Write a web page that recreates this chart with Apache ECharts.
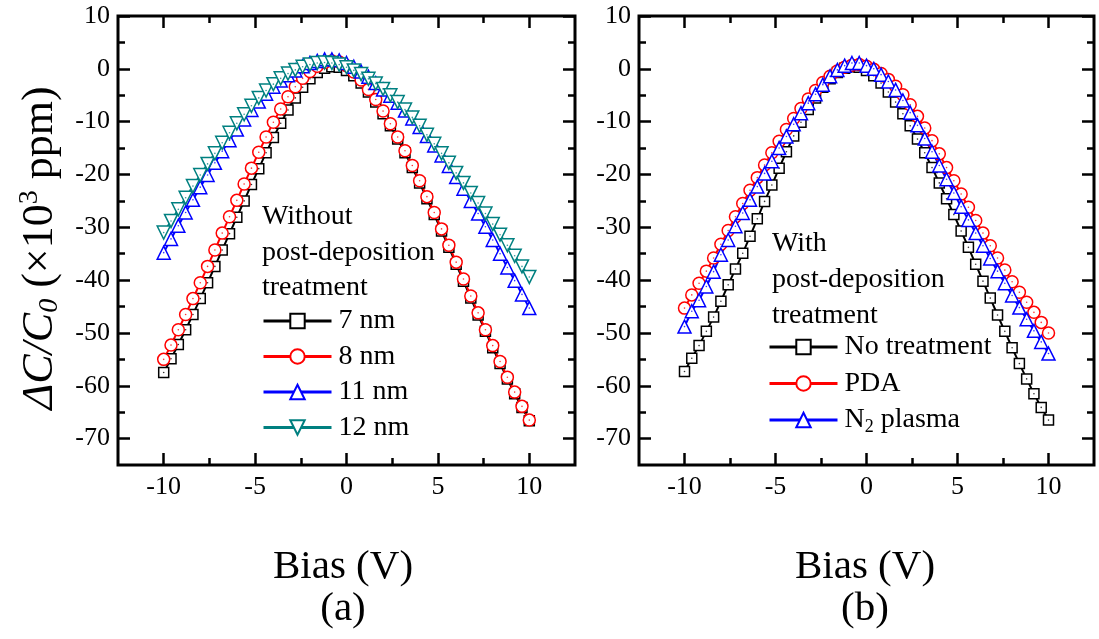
<!DOCTYPE html>
<html>
<head>
<meta charset="utf-8">
<script src="https://cdn.jsdelivr.net/npm/echarts@6/dist/echarts.min.js"></script>
<style>
html,body{margin:0;padding:0;background:#fff;}
#chart{width:1099px;height:639px;}
</style>
</head>
<body>
<div id="chart"></div>
<script>
// Bias (V) grid shared by all curves
const bias = [-10,-9.6,-9.2,-8.8,-8.4,-8,-7.6,-7.2,-6.8,-6.4,-6,-5.6,-5.2,-4.8,-4.4,-4,-3.6,-3.2,-2.8,-2.4,-2,-1.6,-1.2,-0.8,-0.4,0,0.4,0.8,1.2,1.6,2,2.4,2.8,3.2,3.6,4,4.4,4.8,5.2,5.6,6,6.4,6.8,7.2,7.6,8,8.4,8.8,9.2,9.6,10];

// (a) without post-deposition treatment, ΔC/C0 in 10^3 ppm
const nm7 = [-57.5,-54.9,-52.2,-49.4,-46.5,-43.5,-40.5,-37.4,-34.3,-31.2,-28.1,-25.0,-21.9,-18.9,-15.9,-13.0,-10.3,-7.8,-5.5,-3.5,-1.9,-0.7,0.1,0.4,0.3,-0.3,-1.3,-2.7,-4.4,-6.3,-8.5,-10.8,-13.3,-15.9,-18.7,-21.6,-24.6,-27.6,-30.7,-33.8,-37.0,-40.2,-43.4,-46.6,-49.7,-52.8,-55.8,-58.7,-61.5,-64.1,-66.6];
const nm8 = [-55.0,-52.3,-49.4,-46.5,-43.5,-40.5,-37.4,-34.3,-31.1,-28.0,-24.9,-21.8,-18.8,-15.8,-12.9,-10.1,-7.6,-5.3,-3.4,-1.8,-0.5,0.5,1.2,1.5,1.3,0.6,-0.6,-2.1,-3.9,-5.8,-8.0,-10.4,-12.9,-15.5,-18.3,-21.2,-24.2,-27.2,-30.3,-33.4,-36.6,-39.8,-43.0,-46.2,-49.4,-52.4,-55.4,-58.4,-61.2,-63.9,-66.5];
const nm11 = [-34.8,-32.2,-29.7,-27.2,-24.8,-22.4,-20.1,-17.8,-15.6,-13.5,-11.5,-9.6,-7.8,-6.2,-4.7,-3.4,-2.2,-1.2,-0.3,0.5,1.1,1.5,1.8,1.8,1.6,1.1,0.4,-0.5,-1.5,-2.7,-3.9,-5.1,-6.4,-7.9,-9.4,-11.0,-12.7,-14.5,-16.4,-18.4,-20.5,-22.7,-25.0,-27.4,-29.9,-32.4,-35.0,-37.6,-40.1,-42.7,-45.3];
const nm12 = [-31.0,-28.8,-26.6,-24.4,-22.2,-20.1,-18.0,-16.0,-14.0,-12.1,-10.3,-8.6,-7.0,-5.5,-4.1,-2.9,-1.8,-0.9,-0.2,0.4,0.8,1.1,1.2,1.1,0.8,0.3,-0.3,-1.0,-1.9,-2.8,-3.8,-5.0,-6.3,-7.7,-9.2,-10.8,-12.5,-14.2,-16.0,-17.8,-19.7,-21.6,-23.5,-25.4,-27.4,-29.4,-31.4,-33.4,-35.4,-37.4,-39.4];

// (b) with post-deposition treatment
const noTreat = [-57.3,-54.8,-52.4,-49.7,-47.0,-44.0,-40.9,-37.9,-34.9,-31.7,-28.4,-25.1,-22.0,-18.8,-15.7,-12.7,-10.1,-7.7,-5.5,-3.5,-1.9,-0.7,0.1,0.4,0.3,-0.3,-1.3,-2.7,-4.4,-6.3,-8.5,-10.8,-13.3,-15.9,-18.7,-21.6,-24.6,-27.6,-30.7,-33.8,-37.0,-40.2,-43.4,-46.6,-49.7,-52.8,-55.8,-58.7,-61.5,-64.1,-66.5];
const pda = [-45.3,-42.8,-40.6,-38.3,-35.8,-33.2,-30.6,-28.0,-25.5,-23.0,-20.6,-18.2,-15.9,-13.7,-11.5,-9.4,-7.5,-5.7,-4.1,-2.6,-1.4,-0.4,0.3,0.7,0.8,0.5,-0.1,-0.9,-2.0,-3.3,-4.9,-6.8,-9.0,-11.2,-13.6,-16.1,-18.7,-21.2,-23.7,-26.2,-28.7,-31.1,-33.5,-35.8,-38.1,-40.3,-42.3,-44.2,-46.1,-48.0,-50.0];
const n2 = [-48.8,-45.9,-43.8,-41.2,-38.4,-35.2,-32.4,-29.8,-27.3,-24.8,-22.3,-19.8,-17.5,-15.0,-12.8,-10.5,-8.4,-6.5,-4.8,-3.0,-1.4,-0.2,0.6,1.1,1.1,0.6,0.0,-1.1,-2.4,-4.0,-6.0,-8.3,-10.7,-13.2,-15.7,-18.3,-20.9,-23.5,-26.1,-28.6,-31.1,-33.5,-35.9,-38.3,-40.6,-42.9,-45.2,-47.4,-49.6,-51.7,-53.9];

const xMajor = [-10,-5,0,5,10];
const xMinor = [-7.5,-2.5,2.5,7.5];
const yMajor = [-70,-60,-50,-40,-30,-20,-10,0,10];
const yMinor = [-65,-55,-45,-35,-25,-15,-5,5];

const FONT = 'Liberation Serif';
const chart = echarts.init(document.getElementById('chart'), null, {renderer:'canvas'});

function pairs(arr){ return bias.map((v,i)=>[v, arr[i]]); }

const grids = [
  {left:118, top:16, width:457, height:449, show:true, borderColor:'#000', borderWidth:3, backgroundColor:'transparent'},
  {left:639, top:16, width:455, height:449, show:true, borderColor:'#000', borderWidth:3, backgroundColor:'transparent'}
];

const xAxes = [], yAxes = [];
[0,1].forEach(g=>{
  [['bottom',xMajor,12,true],['bottom',xMinor,7,false],['top',xMajor,12,false],['top',xMinor,7,false]].forEach(([pos,vals,len,lab])=>{
    xAxes.push({type:'value', gridIndex:g, position:pos, min:-12.5, max:12.5,
      axisLine:{show:false, onZero:false}, splitLine:{show:false},
      axisTick:{show:true, inside:true, length:len, customValues:vals, lineStyle:{color:'#000', width:2.5}},
      axisLabel:{show:lab, customValues:xMajor, margin:9, color:'#000', fontFamily:FONT, fontSize:26}});
  });
  [['left',yMajor,12,true],['left',yMinor,7,false],['right',yMajor,12,false],['right',yMinor,7,false]].forEach(([pos,vals,len,lab])=>{
    yAxes.push({type:'value', gridIndex:g, position:pos, min:-75, max:10,
      axisLine:{show:false, onZero:false}, splitLine:{show:false},
      axisTick:{show:true, inside:true, length:len, customValues:vals, lineStyle:{color:'#000', width:2.5}},
      axisLabel:{show:lab, customValues:yMajor, margin:8, color:'#000', fontFamily:FONT, fontSize:26}});
  });
});

function mkSeries(name, arr, color, symbol, size, g, rotate){
  const ax = g*4;
  return [{
    name, type:'line', xAxisIndex:ax, yAxisIndex:ax, data:pairs(arr),
    symbol, symbolSize:size, symbolRotate:rotate||0, showAllSymbol:true,
    lineStyle:{color, width:2}, itemStyle:{color:'#fff', borderColor:color, borderWidth:1.5},
    emphasis:{disabled:true}, animation:false, z:2
  },{
    name: name+' dot', type:'scatter', xAxisIndex:ax, yAxisIndex:ax, data:pairs(arr),
    symbol:'circle', symbolSize:1.6, itemStyle:{color}, silent:true, animation:false, z:2
  }];
}

const series = [].concat(
  mkSeries('7 nm', nm7, '#000000', 'rect', 10, 0),
  mkSeries('8 nm', nm8, '#ff0000', 'circle', 12, 0),
  mkSeries('11 nm', nm11, '#0000ff', 'triangle', 13, 0),
  mkSeries('12 nm', nm12, '#008080', 'triangle', 13, 0, 180),
  mkSeries('No treatment', noTreat, '#000000', 'rect', 10, 1),
  mkSeries('PDA', pda, '#ff0000', 'circle', 12, 1),
  mkSeries('N2 plasma', n2, '#0000ff', 'triangle', 13, 1)
);

const legendText = {fontFamily:FONT, fontSize:28, color:'#000', lineHeight:30, padding:[0,0,0,2],
  rich:{n:{fontFamily:FONT, fontSize:28, color:'#000'}, sub:{fontFamily:FONT, fontSize:18, color:'#000', padding:[14,0,0,0]}}};

const option = {
  backgroundColor:'#fff',
  animation:false,
  grid: grids,
  xAxis: xAxes,
  yAxis: yAxes,
  legend:[
    {data:['7 nm','8 nm','11 nm','12 nm'], orient:'vertical', left:262, top:306, padding:0, itemWidth:68, itemHeight:18, itemGap:5.5,
     lineStyle:{width:3}, textStyle:legendText, selectedMode:false},
    {data:['No treatment','PDA','N2 plasma'], orient:'vertical', left:768, top:332, padding:0, itemWidth:68, itemHeight:18, itemGap:6.5,
     lineStyle:{width:3}, textStyle:legendText, selectedMode:false,
     formatter:function(name){ return name==='N2 plasma' ? '{n|N}{sub|2}{n| plasma}' : name; }}
  ],
  graphic:[
    {type:'text', left:262, top:199, style:{text:'Without\npost-deposition\ntreatment', fontFamily:FONT, fontSize:28, lineHeight:35.5, fill:'#000'}},
    {type:'text', left:772, top:226, style:{text:'With\npost-deposition\ntreatment', fontFamily:FONT, fontSize:28, lineHeight:36, fill:'#000'}},
    {type:'text', x:40, y:248, rotation:Math.PI/2,
     style:{text:'{i|ΔC/C}{isub|0}{n| (×10}{sup|3}{n| ppm)}', align:'center', verticalAlign:'middle',
       rich:{
         i:{fontFamily:FONT, fontSize:44, fontStyle:'italic', fill:'#000'},
         isub:{fontFamily:FONT, fontSize:28, fontStyle:'italic', fill:'#000', padding:[20,0,0,0]},
         n:{fontFamily:FONT, fontSize:44, fill:'#000'},
         sup:{fontFamily:FONT, fontSize:28, fill:'#000', padding:[0,0,20,0]}
       }}},
    {type:'text', x:343, y:567, style:{text:'Bias (V)', fontFamily:FONT, fontSize:41, fill:'#000', align:'center', verticalAlign:'middle'}},
    {type:'text', x:343, y:609, style:{text:'(a)', fontFamily:FONT, fontSize:41, fill:'#000', align:'center', verticalAlign:'middle'}},
    {type:'text', x:865, y:567, style:{text:'Bias (V)', fontFamily:FONT, fontSize:41, fill:'#000', align:'center', verticalAlign:'middle'}},
    {type:'text', x:865, y:609, style:{text:'(b)', fontFamily:FONT, fontSize:41, fill:'#000', align:'center', verticalAlign:'middle'}}
  ],
  series: series
};
chart.setOption(option);
</script>
</body>
</html>
